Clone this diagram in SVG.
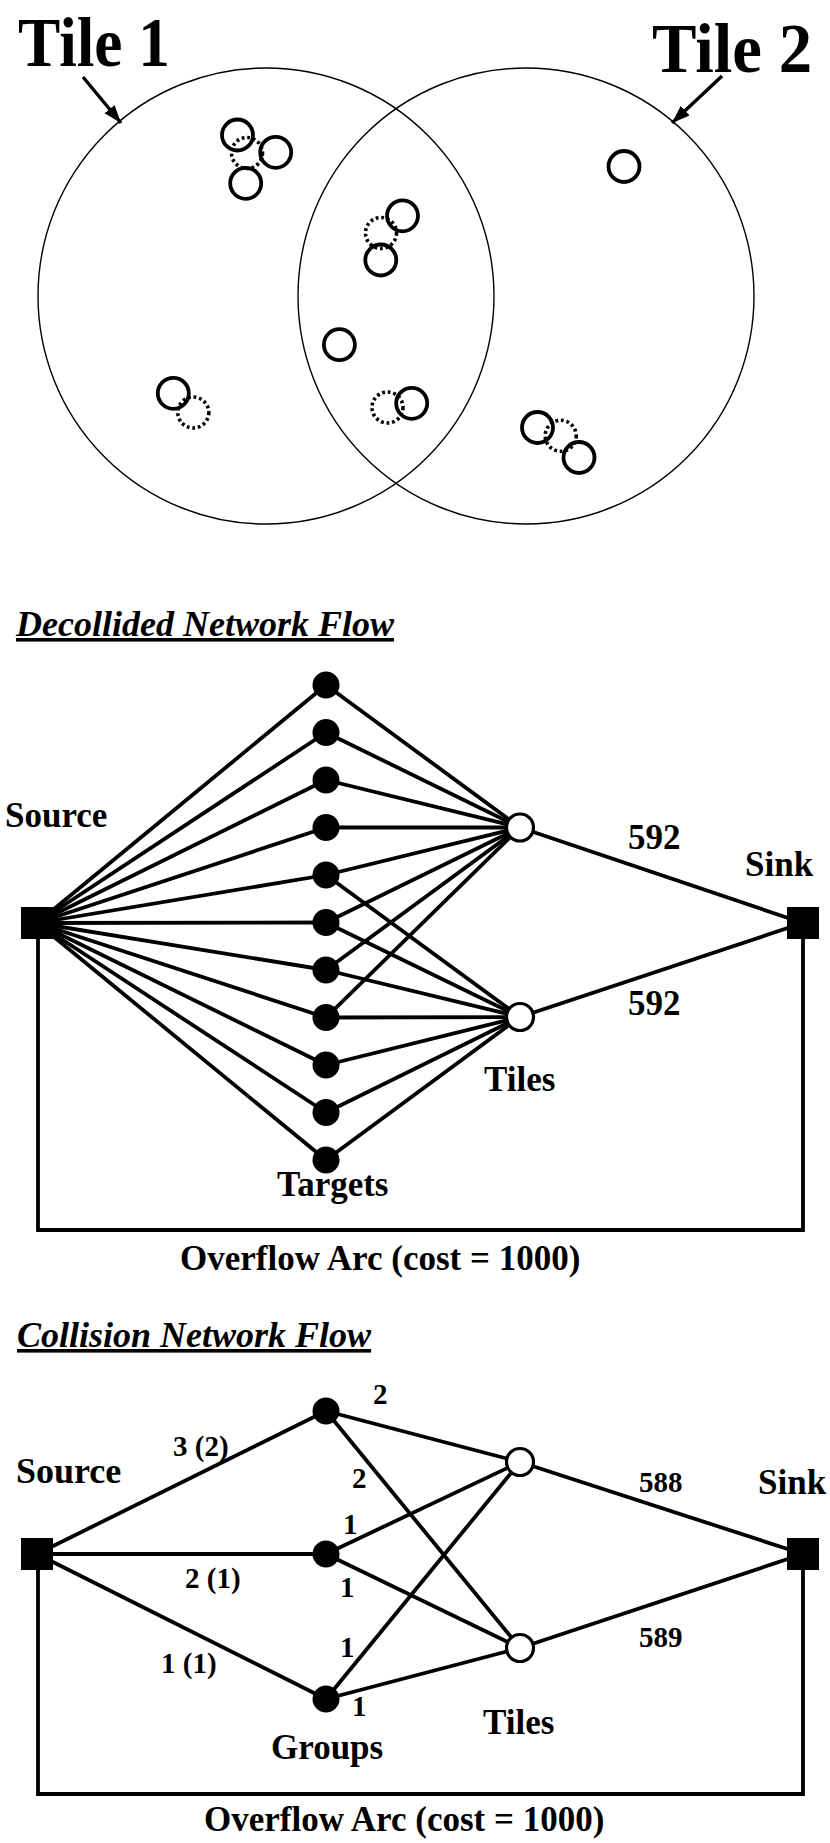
<svg xmlns="http://www.w3.org/2000/svg" width="830" height="1843" viewBox="0 0 830 1843">
<style>
text{font-family:"Liberation Serif","Times New Roman",serif;font-weight:bold;fill:#000}
.big{font-size:70px}
.lbl{font-size:35px}
.num{font-size:29px}
.title{font-size:36px;font-style:italic;text-decoration:underline}
.tile{fill:none;stroke:#000;stroke-width:1.4}
.obj{fill:none;stroke:#000;stroke-width:3.8}
.dot{fill:none;stroke:#000;stroke-width:3.6;stroke-dasharray:2.8 2.8}
.edge{stroke:#000;stroke-width:3.8;fill:none}
.tgt{fill:#000}
.tnode{fill:#fff;stroke:#000;stroke-width:3.2}
.sq{fill:#000}
.arr{stroke:#000;stroke-width:3.4;fill:none}
</style>
<defs>
<marker id="ah" markerUnits="userSpaceOnUse" markerWidth="20" markerHeight="14" refX="18" refY="6.5" orient="auto">
<path d="M0,0 L18,6.5 L0,13 z" fill="#000"/>
</marker>
</defs>

<!-- Top: tiles diagram -->
<g id="tile1">
<circle class="tile" cx="266" cy="296" r="228"/>
<text class="big" x="18" y="66" textLength="152" lengthAdjust="spacingAndGlyphs">Tile 1</text>
<line class="arr" x1="83" y1="77" x2="121" y2="123" marker-end="url(#ah)"/>
</g>
<g id="tile2">
<circle class="tile" cx="526" cy="296" r="228"/>
<text class="big" x="652" y="72" textLength="160" lengthAdjust="spacingAndGlyphs">Tile 2</text>
<line class="arr" x1="722" y1="76" x2="672" y2="123" marker-end="url(#ah)"/>
</g>
<g id="objects">
<circle class="dot" cx="247" cy="153" r="15.5"/>
<circle class="dot" cx="381" cy="233" r="15.5"/>
<circle class="dot" cx="193.3" cy="412.5" r="15.5"/>
<circle class="dot" cx="387.5" cy="407.5" r="15.5"/>
<circle class="dot" cx="560.7" cy="435.8" r="15.5"/>
<circle class="obj" cx="237.5" cy="135" r="15.5"/>
<circle class="obj" cx="275.7" cy="152.3" r="15.5"/>
<circle class="obj" cx="245.7" cy="183.3" r="15.5"/>
<circle class="obj" cx="402.5" cy="215.8" r="15.5"/>
<circle class="obj" cx="380.8" cy="260" r="15.5"/>
<circle class="obj" cx="339.4" cy="344.7" r="15.5"/>
<circle class="obj" cx="173.3" cy="393.3" r="15.5"/>
<circle class="obj" cx="411.7" cy="403.3" r="15.5"/>
<circle class="obj" cx="537.5" cy="427.5" r="15.5"/>
<circle class="obj" cx="579" cy="457.5" r="15.5"/>
<circle class="obj" cx="624" cy="166.5" r="15.5"/>
</g>

<!-- Decollided network flow -->
<text class="title" x="16" y="636">Decollided Network Flow</text>
<g id="d-connectors">
<line class="edge" x1="37" y1="923" x2="326" y2="685"/>
<line class="edge" x1="37" y1="923" x2="326" y2="732.5"/>
<line class="edge" x1="37" y1="923" x2="326" y2="780"/>
<line class="edge" x1="37" y1="923" x2="326" y2="827.5"/>
<line class="edge" x1="37" y1="923" x2="326" y2="875"/>
<line class="edge" x1="37" y1="923" x2="326" y2="922.5"/>
<line class="edge" x1="37" y1="923" x2="326" y2="970"/>
<line class="edge" x1="37" y1="923" x2="326" y2="1017.5"/>
<line class="edge" x1="37" y1="923" x2="326" y2="1065"/>
<line class="edge" x1="37" y1="923" x2="326" y2="1112.5"/>
<line class="edge" x1="37" y1="923" x2="326" y2="1160"/>
<line class="edge" x1="326" y1="685" x2="520" y2="827.5"/>
<line class="edge" x1="326" y1="732.5" x2="520" y2="827.5"/>
<line class="edge" x1="326" y1="780" x2="520" y2="827.5"/>
<line class="edge" x1="326" y1="827.5" x2="520" y2="827.5"/>
<line class="edge" x1="326" y1="875" x2="520" y2="827.5"/>
<line class="edge" x1="326" y1="922.5" x2="520" y2="827.5"/>
<line class="edge" x1="326" y1="970" x2="520" y2="827.5"/>
<line class="edge" x1="326" y1="1017.5" x2="520" y2="827.5"/>
<line class="edge" x1="326" y1="875" x2="520" y2="1017"/>
<line class="edge" x1="326" y1="922.5" x2="520" y2="1017"/>
<line class="edge" x1="326" y1="970" x2="520" y2="1017"/>
<line class="edge" x1="326" y1="1017.5" x2="520" y2="1017"/>
<line class="edge" x1="326" y1="1065" x2="520" y2="1017"/>
<line class="edge" x1="326" y1="1112.5" x2="520" y2="1017"/>
<line class="edge" x1="326" y1="1160" x2="520" y2="1017"/>
<line class="edge" x1="520" y1="827.5" x2="803" y2="923"/>
<line class="edge" x1="520" y1="1017" x2="803" y2="923"/>
<polyline class="edge" points="38,923 38,1230 803,1230 803,923"/>
</g>
<g id="d-source"><rect class="sq" x="21" y="907" width="32" height="32"/><text class="lbl" x="5" y="827">Source</text></g>
<g id="d-sink"><rect class="sq" x="787" y="907" width="32" height="32"/><text class="lbl" x="745" y="876">Sink</text></g>
<g id="d-targets">
<circle class="tgt" cx="326" cy="685" r="13.5"/>
<circle class="tgt" cx="326" cy="732.5" r="13.5"/>
<circle class="tgt" cx="326" cy="780" r="13.5"/>
<circle class="tgt" cx="326" cy="827.5" r="13.5"/>
<circle class="tgt" cx="326" cy="875" r="13.5"/>
<circle class="tgt" cx="326" cy="922.5" r="13.5"/>
<circle class="tgt" cx="326" cy="970" r="13.5"/>
<circle class="tgt" cx="326" cy="1017.5" r="13.5"/>
<circle class="tgt" cx="326" cy="1065" r="13.5"/>
<circle class="tgt" cx="326" cy="1112.5" r="13.5"/>
<circle class="tgt" cx="326" cy="1160" r="13.5"/>
<text class="lbl" x="277" y="1196">Targets</text>
</g>
<g id="d-tiles">
<circle class="tnode" cx="520" cy="827.5" r="13.5"/>
<circle class="tnode" cx="520" cy="1017" r="13.5"/>
<text class="lbl" x="484" y="1091">Tiles</text>
</g>
<g id="d-labels">
<text class="lbl" x="628" y="849">592</text>
<text class="lbl" x="628" y="1015">592</text>
<text class="lbl" x="180" y="1270">Overflow Arc (cost = 1000)</text>
</g>

<!-- Collision network flow -->
<text class="title" x="17" y="1347">Collision Network Flow</text>
<g id="c-connectors">
<line class="edge" x1="37" y1="1554" x2="326" y2="1411"/>
<line class="edge" x1="37" y1="1554" x2="326" y2="1554"/>
<line class="edge" x1="37" y1="1554" x2="326" y2="1699"/>
<line class="edge" x1="326" y1="1411" x2="520" y2="1462"/>
<line class="edge" x1="326" y1="1411" x2="520" y2="1648"/>
<line class="edge" x1="326" y1="1554" x2="520" y2="1462"/>
<line class="edge" x1="326" y1="1554" x2="520" y2="1648"/>
<line class="edge" x1="326" y1="1699" x2="520" y2="1462"/>
<line class="edge" x1="326" y1="1699" x2="520" y2="1648"/>
<line class="edge" x1="520" y1="1462" x2="803" y2="1554"/>
<line class="edge" x1="520" y1="1648" x2="803" y2="1554"/>
<polyline class="edge" points="38,1554 38,1794 803,1794 803,1554"/>
</g>
<g id="c-source"><rect class="sq" x="21" y="1538" width="32" height="32"/><text class="lbl" x="16" y="1483" style="font-size:36px">Source</text></g>
<g id="c-sink"><rect class="sq" x="787" y="1538" width="32" height="32"/><text class="lbl" x="758" y="1494">Sink</text></g>
<g id="c-groups">
<circle class="tgt" cx="326" cy="1411" r="13.5"/>
<circle class="tgt" cx="326" cy="1554" r="13.5"/>
<circle class="tgt" cx="326" cy="1699" r="13.5"/>
<text class="lbl" x="271" y="1759">Groups</text>
</g>
<g id="c-tiles">
<circle class="tnode" cx="520" cy="1462" r="13.5"/>
<circle class="tnode" cx="520" cy="1648" r="13.5"/>
<text class="lbl" x="483" y="1734">Tiles</text>
</g>
<g id="c-labels">
<text class="num" x="173" y="1456">3 (2)</text>
<text class="num" x="185" y="1588">2 (1)</text>
<text class="num" x="161" y="1673">1 (1)</text>
<text class="num" x="373" y="1404">2</text>
<text class="num" x="352" y="1488">2</text>
<text class="num" x="343" y="1534">1</text>
<text class="num" x="340" y="1597">1</text>
<text class="num" x="340" y="1657">1</text>
<text class="num" x="352" y="1716">1</text>
<text class="num" x="639" y="1492">588</text>
<text class="num" x="639" y="1647">589</text>
<text class="lbl" x="204" y="1831">Overflow Arc (cost = 1000)</text>
</g>
</svg>
